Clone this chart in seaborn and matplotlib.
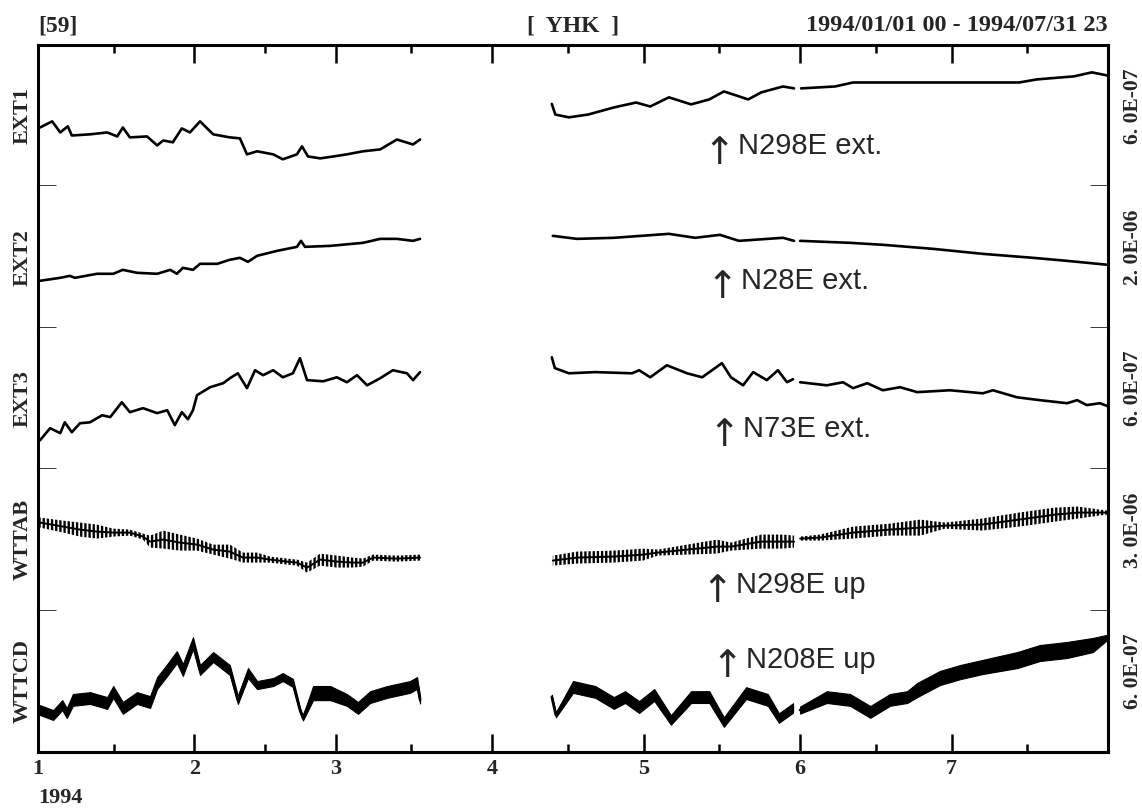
import numpy as np
import pandas as pd
import matplotlib
matplotlib.use("Agg")
import matplotlib.pyplot as plt
import seaborn as sns

# ── DATA │ days since 1994-01-01 00h, values in units of 1E-07 ──────
NAN = float("nan")

ext1_day = [0.4, 2.8, 4.4, 5.9, 6.7, 10.3, 13.7, 15.7, 16.8, 18.2, 21.6, 23.6,
            24.8, 26.7, 28.5, 30.1, 32.1, 34.7, 38.0, 40.0, 41.4, 43.4, 46.6,
            48.5, 51.3, 52.3, 53.5, 55.9, 58.5, 61.2, 64.4, 67.8, 71.1, 74.3, 75.7,
            NAN,
            101.8, 102.5, 105.2, 109.0, 114.1, 118.5, 121.3, 125.0, 129.4, 133.0,
            135.9, 138.9, 140.7, 143.3, 147.6, 149.8,
            NAN,
            151.2, 157.9, 161.5, 168.8, 179.7, 194.4, 197.9, 205.3, 208.8, 211.8]
ext1_val = [2.50, 2.76, 2.29, 2.55, 2.16, 2.21, 2.29, 2.12, 2.50, 2.08, 2.12, 1.74,
            1.95, 1.87, 2.46, 2.29, 2.76, 2.21, 2.08, 2.04, 1.36, 1.49, 1.36,
            1.15, 1.36, 1.70, 1.27, 1.19, 1.27, 1.36, 1.49, 1.57, 1.99, 1.78, 1.99,
            NAN,
            3.50, 3.05, 2.93, 3.05, 3.35, 3.56, 3.39, 3.78, 3.48, 3.69,
            4.03, 3.82, 3.69, 3.99, 4.24, 4.16,
            NAN,
            4.16, 4.24, 4.41, 4.41, 4.41, 4.41, 4.54, 4.67, 4.84, 4.71]

ext2_day = [0.4, 4.4, 6.3, 7.3, 11.7, 14.9, 16.8, 19.6, 23.6, 26.2, 27.5, 28.7,
            30.7, 32.1, 35.5, 38.0, 40.0, 41.6, 43.4, 47.4, 51.3, 52.1, 52.9,
            57.9, 64.4, 67.8, 71.1, 74.3, 75.7,
            NAN,
            102.0, 106.8, 114.1, 125.0, 130.2, 135.1, 138.9, 147.6, 149.8,
            NAN,
            151.0, 160.9, 167.4, 177.3, 187.2, 197.1, 203.9, 212.0]
ext2_val = [6.65, 7.07, 7.35, 7.07, 7.64, 7.64, 8.20, 7.78, 7.64, 8.20, 7.64, 8.48,
            8.20, 9.05, 9.05, 9.62, 9.90, 9.33, 10.18, 10.89, 11.45, 12.30, 11.45,
            11.59, 12.02, 12.58, 12.58, 12.30, 12.58,
            NAN,
            13.01, 12.58, 12.73, 13.29, 12.73, 13.15, 12.30, 12.73, 12.30,
            NAN,
            12.30, 12.02, 11.74, 11.17, 10.46, 9.90, 9.47, 8.91]

ext3_day = [0.4, 2.4, 4.4, 5.3, 6.7, 8.3, 10.3, 12.7, 14.3, 16.6, 18.2, 20.8,
            23.6, 25.6, 27.1, 28.5, 29.7, 30.7, 31.5, 34.1, 36.7, 38.0, 39.6,
            41.4, 43.0, 44.6, 46.6, 48.5, 50.5, 51.9, 53.3, 56.5, 59.2, 61.2,
            63.2, 65.2, 67.8, 70.3, 73.1, 74.3, 75.7,
            NAN,
            101.8, 102.4, 105.2, 110.4, 117.7, 119.1, 121.3, 124.6, 128.6, 131.6,
            135.5, 137.3, 139.7, 141.7, 144.4, 146.6, 148.4, 149.6,
            NAN,
            151.0, 156.3, 159.5, 161.5, 164.3, 167.4, 170.8, 174.2, 180.7, 187.2,
            189.2, 194.0, 198.5, 203.9, 205.9, 207.8, 210.4, 212.0]
ext3_val = [1.23, 1.74, 1.53, 1.99, 1.57, 1.95, 1.99, 2.29, 2.21, 2.84, 2.42, 2.59,
            2.38, 2.50, 1.87, 2.42, 2.12, 2.50, 3.14, 3.48, 3.65, 3.86, 4.07,
            3.44, 4.20, 3.99, 4.20, 3.90, 4.07, 4.71, 3.78, 3.73, 3.90, 3.69,
            3.99, 3.56, 3.86, 4.20, 4.07, 3.78, 4.12,
            NAN,
            4.75, 4.29, 4.07, 4.12, 4.07, 4.20, 3.90, 4.41, 4.07, 3.90,
            4.50, 3.90, 3.56, 4.12, 3.78, 4.20, 3.69, 3.82,
            NAN,
            3.69, 3.56, 3.69, 3.44, 3.65, 3.35, 3.48, 3.27, 3.35, 3.22,
            3.35, 3.05, 2.93, 2.80, 2.93, 2.72, 2.80, 2.67]

# tilt channels: centre of the tidal trace and its half range
wttab_day = [0.4, 5.0, 8.3, 11.7, 14.9, 18.2, 20.8, 22.2, 24.8, 28.1, 31.5, 34.7,
             38.0, 40.6, 43.4, 46.0, 49.3, 51.3, 53.3, 55.9, 59.2, 62.4, 64.4,
             66.4, 71.1, 75.7,
             NAN,
             102.0, 106.8, 114.1, 119.9, 122.8, 128.6, 134.5, 137.3, 143.3, 147.6, 149.8,
             NAN,
             151.0, 154.9, 161.5, 168.8, 174.8, 179.7, 187.0, 194.4, 201.5, 206.1, 211.8]
wttab_val = [18.67, 17.82, 17.19, 16.76, 16.55, 16.55, 15.70, 14.64, 15.07, 14.43,
             14.01, 12.94, 12.52, 11.25, 11.25, 10.82, 10.40, 10.19, 9.12, 10.82,
             10.40, 10.19, 10.19, 11.25, 11.03, 11.25,
             NAN,
             10.61, 11.25, 11.46, 11.88, 12.31, 12.94, 13.58, 13.58, 14.64, 14.64, 14.64,
             NAN,
             15.28, 15.49, 16.55, 17.19, 17.61, 18.04, 18.25, 19.31, 20.37, 20.80, 20.80]
wttab_half = [1.06, 1.27, 1.49, 1.49, 0.85, 0.64, 0.64, 1.27, 1.91, 1.70, 1.27, 1.06,
              1.49, 1.06, 1.06, 0.64, 0.64, 0.64, 1.06, 1.27, 1.27, 1.06, 0.85,
              0.64, 0.64, 0.64,
              NAN,
              1.06, 1.27, 1.27, 1.27, 0.64, 1.06, 1.49, 0.85, 1.49, 1.49, 1.27,
              NAN,
              0.42, 0.64, 1.27, 1.27, 1.70, 0.64, 1.27, 1.49, 1.49, 1.27, 0.42]

wttcd_day = [0.4, 3.0, 4.8, 5.7, 6.9, 10.3, 13.7, 14.9, 16.8, 19.6, 22.2, 23.6,
             25.6, 27.5, 28.7, 30.7, 32.1, 34.7, 38.0, 39.6, 41.6, 43.4, 46.6,
             48.5, 50.5, 51.9, 52.5, 54.5, 57.9, 61.2, 63.4, 65.8, 69.2, 73.7,
             75.1, 75.7,
             NAN,
             101.8, 102.6, 106.0, 110.4, 114.1, 116.3, 119.1, 122.1, 125.4, 129.4,
             133.0, 135.9, 140.3, 144.6, 146.8, 149.6,
             NAN,
             151.0, 156.3, 160.9, 164.9, 168.8, 172.2, 174.2, 178.7, 182.7, 187.2,
             194.0, 198.5, 203.9, 209.0, 212.0]
wttcd_val = [1.78, 1.57, 1.99, 1.65, 2.21, 2.29, 2.08, 2.55, 1.87, 2.29, 2.12, 2.93,
             3.48, 4.03, 3.48, 4.62, 3.48, 4.03, 3.48, 2.21, 3.35, 2.84, 2.97,
             3.18, 2.93, 1.78, 1.44, 2.50, 2.50, 2.21, 1.87, 2.33, 2.55, 2.76,
             2.93, 2.21,
             NAN,
             2.33, 1.57, 2.76, 2.55, 2.08, 2.33, 1.91, 2.42, 1.36, 2.33,
             2.33, 1.27, 2.50, 2.21, 1.44, 1.87,
             NAN,
             1.78, 2.33, 2.21, 1.70, 2.21, 2.33, 2.63, 3.14, 3.39, 3.61,
             3.90, 4.20, 4.33, 4.54, 4.88]
wttcd_half = [0.21, 0.21, 0.21, 0.21, 0.25, 0.25, 0.25, 0.25, 0.25, 0.25, 0.25, 0.25,
              0.25, 0.25, 0.25, 0.25, 0.21, 0.21, 0.21, 0.17, 0.21, 0.17, 0.17,
              0.17, 0.17, 0.10, 0.10, 0.30, 0.30, 0.25, 0.25, 0.25, 0.25, 0.25,
              0.25, 0.15,
              NAN,
              0.10, 0.10, 0.25, 0.25, 0.25, 0.25, 0.25, 0.25, 0.20, 0.25,
              0.25, 0.20, 0.25, 0.25, 0.20, 0.20,
              NAN,
              0.15, 0.25, 0.25, 0.25, 0.25, 0.25, 0.30, 0.30, 0.30, 0.30,
              0.34, 0.34, 0.34, 0.30, 0.10]

channels = ["EXT1", "EXT2", "EXT3", "WTTAB", "WTTCD"]
full_scale = [6.0, 20.0, 6.0, 30.0, 6.0]          # panel height, 1E-07
scale_labels = ["6. 0E-07", "2. 0E-06", "6. 0E-07", "3. 0E-06", "6. 0E-07"]
directions = ["N298E ext.", "N28E ext.", "N73E ext.", "N298E up", "N208E up"]

month_start = [0, 31, 59, 90, 120, 151, 181]
month_mid = [15, 45, 74, 105, 135, 166, 196]
month_labels = ["1", "2", "3", "4", "5", "6", "7"]

series = {
    "EXT1": (ext1_day, ext1_val, None),
    "EXT2": (ext2_day, ext2_val, None),
    "EXT3": (ext3_day, ext3_val, None),
    "WTTAB": (wttab_day, wttab_val, wttab_half),
    "WTTCD": (wttcd_day, wttcd_val, wttcd_half),
}

# ── STYLE ───────────────────────────────────────────────────────────
sns.set_style("white")
plt.rcParams["font.family"] = ["Liberation Serif", "DejaVu Serif"]
plt.rcParams["hatch.linewidth"] = 1.7

SERIF = dict(family=["Liberation Serif", "DejaVu Serif"], weight="bold")
SANS = dict(family=["Liberation Sans", "DejaVu Sans"])
LW = 2.2

fig, axes = plt.subplots(5, 1, sharex=True, figsize=(11.42, 8.08), dpi=100,
                         gridspec_kw={"hspace": 0})
fig.subplots_adjust(left=0.0333, right=0.9702, top=0.9443, bottom=0.0693)

# text placement inside each panel (axes fraction): arrow centre, baseline
ann_x = [0.6384, 0.6412, 0.6431, 0.6365, 0.6459]
ann_y = [0.226, 0.276, 0.226, 0.127, 0.594]


def pieces(day, val, half):
    """Split a series into the recorded runs (NaN marks a data gap)."""
    df = pd.DataFrame({"day": day, "val": val})
    df["half"] = half if half is not None else 0.0
    run = df["day"].isna().cumsum()
    for _, g in df.dropna().groupby(run[df["day"].notna()]):
        yield g


# ── PANELS ──────────────────────────────────────────────────────────
for i, (ax, name) in enumerate(zip(axes, channels)):
    day, val, half = series[name]
    for g in pieces(day, val, half):
        lw = 1.9
        if name == "WTTAB":
            ax.fill_between(g["day"], g["val"] - g["half"], g["val"] + g["half"],
                            facecolor="none", edgecolor="black", hatch="||||",
                            linewidth=0)
            lw = 1.4
        elif name == "WTTCD":
            ax.fill_between(g["day"], g["val"] - g["half"], g["val"] + g["half"],
                            color="black", linewidth=0.8)
        sns.lineplot(data=g, x="day", y="val", ax=ax, color="black",
                     linewidth=lw, estimator=None, sort=False)

    ax.set_ylim(0, full_scale[i])
    ax.set_xlim(0, 212)
    ax.set_xlabel("")
    ax.set_ylabel("")

    for side in ["left", "right", "top", "bottom"]:
        ax.spines[side].set_visible(side in ("left", "right"))
        ax.spines[side].set_linewidth(LW)
        ax.spines[side].set_color("black")

    # separator ticks between panels
    if i < 4:
        ax.set_yticks([0])
        ax.tick_params(axis="y", which="major", direction="in", length=13,
                       width=1.8, left=True, right=True, labelleft=False,
                       labelright=False, color="black")
    else:
        ax.set_yticks([])

    ax.text(-0.0140, 0.5, name, transform=ax.transAxes, rotation=90,
            ha="center", va="center", fontsize=16, **SERIF)
    ax.text(1.0230, 0.57, scale_labels[i], transform=ax.transAxes, rotation=90,
            ha="center", va="center", fontsize=15.5, **SERIF)
    ax.text(ann_x[i] - 0.002, ann_y[i] - 0.065, "↑", transform=ax.transAxes,
            ha="center", va="baseline", fontsize=27, family=["DejaVu Sans"])
    ax.text(ann_x[i] + 0.0155, ann_y[i], directions[i], transform=ax.transAxes,
            ha="left", va="baseline", fontsize=21, **SANS)

# time axis
axes[0].spines["top"].set_visible(True)
axes[-1].spines["bottom"].set_visible(True)
axes[-1].set_xticks(month_start)
axes[-1].set_xticks(month_mid, minor=True)
axes[-1].set_xticklabels(month_labels, fontsize=16, **SERIF)

for i, ax in enumerate(axes):
    ax.tick_params(axis="x", which="both", direction="in", width=1.8,
                   top=(i == 0), bottom=(i == 4), labelbottom=(i == 4),
                   labeltop=False, color="black")
    ax.tick_params(axis="x", which="major", length=13, pad=5)
    ax.tick_params(axis="x", which="minor", length=6)

fig.text(0.0333, 0.0062, "1994", ha="left", va="baseline", fontsize=16, **SERIF)

# header line
axes[0].set_title("[59]", loc="left", pad=10, fontsize=17, **SERIF)
axes[0].set_title("[  YHK  ]", loc="center", pad=10, fontsize=17, **SERIF)
axes[0].set_title("1994/01/01 00 - 1994/07/31 23", loc="right", pad=10,
                  fontsize=17.5, **SERIF)

fig.savefig("out.png", dpi=100)
